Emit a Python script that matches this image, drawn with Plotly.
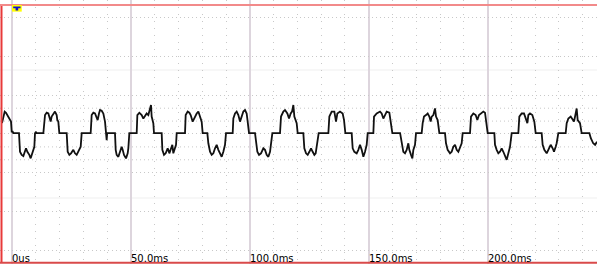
import plotly.graph_objects as go

# ---------------- data ----------------
time_ms = [
    -4.2, -3.08, -2.52, -1.96, -1.26, -0.84, -0.42, -0.14, 0.28, 0.56, 2.66, 2.94,
    3.36, 4.07, 4.77, 5.47, 5.89, 6.45, 7.29, 7.85, 8.55, 8.97, 9.39, 9.67, 10.09, 10.3,
    13.18, 13.88, 14.58, 15.28, 15.98, 16.26, 16.68, 17.38, 18.08, 18.78, 19.06, 19.48, 19.90,
    22.99, 23.41, 24.11, 24.81, 25.79, 26.49, 27.19, 27.89, 28.60, 28.88, 29.30,
    33.08, 33.50, 34.20, 34.90, 35.60, 36.02, 36.58, 37.01, 37.71, 38.41, 39.11, 39.53, 39.81, 40.0,
    43.31, 43.6, 44.01, 44.72, 45.42, 46.12, 46.54, 47.10, 47.94, 48.64, 48.92, 49.34,
    52.43, 52.71, 53.55, 54.53, 55.23, 55.93, 56.63, 57.33, 58.03, 58.45, 58.73, 59.43, 59.71,
    62.94, 63.22, 63.92, 64.62, 65.46, 66.16, 66.72, 67.42, 67.84, 68.55, 68.97, 69.25,
    72.75, 73.03, 73.87, 74.57, 75.13, 75.97, 76.54, 77.66, 78.36, 79.06, 79.76, 80.18,
    82.14, 82.56, 83.27, 83.97, 84.67, 85.37, 86.07, 86.77, 87.47, 88.17, 88.87, 89.57, 89.99,
    92.80, 93.08, 93.78, 94.48, 95.18, 95.88, 96.58, 97.28, 97.98, 98.68, 99.10, 99.67,
    102.19, 102.61, 103.17, 103.87, 104.71, 105.69, 106.39, 107.09, 107.80, 108.50, 108.92, 109.48,
    112.70, 113.12, 114.10, 114.80, 115.79, 116.49, 117.19, 117.75, 118.31, 118.73, 119.71, 120.13,
    122.51, 122.93, 123.64, 124.34, 125.04, 125.74, 126.44, 127.14, 127.70, 128.12, 128.54, 128.96,
    133.03, 133.45, 134.43, 135.55, 136.25, 136.81, 137.93, 139.05, 139.62, 140.18,
    142.84, 143.26, 143.96, 144.94, 145.64, 146.34, 147.05, 147.75, 148.45, 149.15, 149.57,
    151.95, 152.23, 153.35, 154.75, 155.45, 156.15, 156.86, 157.56, 158.68, 159.24, 159.94,
    163.2, 163.86, 164.56, 165.26, 165.96, 166.66, 167.08, 167.79, 168.35, 168.77, 169.47, 169.89,
    172.27, 172.69, 173.25, 174.09, 174.79, 175.50, 176.06, 176.48, 177.18, 177.88, 178.30, 179.00, 179.70,
    182.08, 182.50, 183.20, 184.19, 184.89, 185.59, 186.29, 186.99, 187.69, 188.39, 189.09, 189.51,
    192.60, 193.02, 194.00, 194.98, 195.68, 196.38, 197.08, 198.20, 198.90, 199.60, 200.03,
    202.83, 203.11, 203.81, 204.51, 205.21, 205.91, 206.61, 207.31, 208.02, 208.72, 209.42, 210.12,
    212.92, 213.34, 214.32, 215.30, 216.14, 216.71, 217.13, 217.83, 218.81, 219.65, 220.21,
    222.73, 223.15, 223.85, 224.84, 225.82, 226.52, 227.36, 227.92, 228.62, 229.04, 229.74,
    232.83, 233.25, 233.95, 234.93, 235.77, 236.33, 237.03, 237.45, 237.87, 238.85, 239.55,
    242.8, 243.4, 244.4, 245.2, 246.0,
]
current_div = [
    0.28, 0.58, 0.55, 0.49, 0.40, 0.36, 0.32, 0.06, 0.06, 0.02, 0.02, 0.02,
    -0.46, -0.54, -0.57, -0.46, -0.37, -0.46, -0.54, -0.63, -0.50, -0.37, -0.33, 0.02, 0.06, 0.02,
    0.02, 0.49, 0.55, 0.53, 0.36, 0.32, 0.45, 0.53, 0.58, 0.49, 0.36, 0.32, 0.02,
    0.02, -0.46, -0.54, -0.50, -0.41, -0.50, -0.54, -0.46, -0.37, -0.33, 0.02,
    0.02, 0.49, 0.55, 0.53, 0.40, 0.36, 0.53, 0.62, 0.60, 0.53, 0.32, 0.02, -0.16, 0.02,
    0.02, -0.41, -0.54, -0.59, -0.46, -0.33, -0.41, -0.54, -0.63, -0.50, -0.37, 0.02,
    0.02, 0.49, 0.55, 0.49, 0.40, 0.45, 0.53, 0.49, 0.62, 0.75, 0.45, 0.28, 0.02,
    0.02, -0.41, -0.54, -0.50, -0.37, -0.50, -0.41, -0.28, -0.50, -0.37, -0.28, 0.02,
    0.02, 0.49, 0.58, 0.55, 0.49, 0.32, 0.40, 0.53, 0.58, 0.45, 0.32, 0.02,
    0.02, -0.24, -0.46, -0.54, -0.50, -0.37, -0.28, -0.41, -0.50, -0.59, -0.46, -0.28, 0.02,
    0.02, 0.40, 0.53, 0.58, 0.49, 0.32, 0.45, 0.58, 0.62, 0.53, 0.32, 0.02,
    0.02, -0.28, -0.46, -0.54, -0.50, -0.37, -0.41, -0.54, -0.59, -0.46, -0.28, 0.02,
    0.02, 0.45, 0.58, 0.62, 0.53, 0.40, 0.53, 0.58, 0.75, 0.45, 0.28, 0.02,
    0.02, -0.37, -0.50, -0.54, -0.46, -0.37, -0.46, -0.54, -0.50, -0.33, -0.24, 0.02,
    0.02, 0.45, 0.58, 0.58, 0.32, 0.53, 0.58, 0.53, 0.36, 0.02,
    0.02, -0.37, -0.46, -0.50, -0.41, -0.28, -0.41, -0.59, -0.46, -0.28, 0.02,
    0.02, 0.45, 0.53, 0.58, 0.53, 0.40, 0.49, 0.58, 0.55, 0.36, 0.02,
    0.02, -0.28, -0.46, -0.50, -0.41, -0.24, -0.41, -0.54, -0.63, -0.41, -0.28, 0.02,
    0.02, 0.28, 0.45, 0.49, 0.53, 0.45, 0.32, 0.45, 0.49, 0.66, 0.45, 0.36, 0.02,
    0.02, -0.24, -0.41, -0.50, -0.46, -0.33, -0.28, -0.41, -0.46, -0.37, -0.24, 0.02,
    0.02, 0.45, 0.53, 0.49, 0.36, 0.49, 0.53, 0.58, 0.55, 0.28, 0.02,
    0.02, -0.28, -0.41, -0.50, -0.46, -0.37, -0.46, -0.59, -0.67, -0.50, -0.33, 0.02,
    0.02, 0.45, 0.53, 0.53, 0.40, 0.28, 0.49, 0.53, 0.49, 0.32, 0.02,
    0.02, -0.28, -0.41, -0.50, -0.37, -0.28, -0.37, -0.46, -0.33, -0.24, 0.02,
    0.02, 0.28, 0.40, 0.45, 0.36, 0.32, 0.53, 0.66, 0.36, 0.28, 0.02,
    0.02, -0.11, -0.24, -0.28, -0.20,
]
tick_values_ms = [0, 50, 100, 150, 200]
tick_labels = ["0us", "50.0ms", "100.0ms", "150.0ms", "200.0ms"]
center_minor_levels = [-2 / 3, -1 / 3, 1 / 3, 2 / 3]
cursor_levels = [1.655, -1.655]

# ---------------- figure ----------------
W, H = 597, 264
x_range = [-5.05, 246.0]
y_range = [-3.362, 3.465]

fig = go.Figure()
fig.add_trace(go.Scatter(
    x=time_ms, y=current_div, mode="lines",
    line=dict(color="#111111", width=1.8),
    hoverinfo="skip", showlegend=False,
))

shapes = []
for lv in center_minor_levels:
    shapes.append(dict(type="line", xref="paper", yref="y", x0=0, x1=1, y0=lv, y1=lv,
                       line=dict(color="#c8c8c8", width=1, dash="1px,3px"), layer="below"))
for lv in cursor_levels:
    shapes.append(dict(type="line", xref="paper", yref="y", x0=0, x1=1, y0=lv, y1=lv,
                       line=dict(color="#efefef", width=1), layer="below"))

# red frame
shapes += [
    dict(type="line", xref="paper", yref="paper", x0=0.0025, x1=0.0025, y0=0.004, y1=0.985,
         line=dict(color="#e83a3a", width=2)),
    dict(type="line", xref="paper", yref="paper", x0=0, x1=1, y0=0.9815, y1=0.9815,
         line=dict(color="#f28a8a", width=2)),
    dict(type="line", xref="paper", yref="paper", x0=0, x1=1, y0=0.005, y1=0.005,
         line=dict(color="#d94a4a", width=2)),
]
# trigger marker (yellow box with blue arrow) at t = 0
shapes += [
    dict(type="rect", xref="x", yref="paper", x0=0, x1=4.1, y0=0.956, y1=0.981,
         fillcolor="#ffff00", line=dict(width=0)),
    dict(type="path", xref="x", yref="paper",
         path="M 0.5 0.975 L 3.6 0.975 L 3.6 0.969 L 2.6 0.969 L 2.6 0.960 L 1.5 0.960 L 1.5 0.969 L 0.5 0.969 Z",
         fillcolor="#1010d0", line=dict(width=0)),
]

annotations = []
for tv, tl in zip(tick_values_ms, tick_labels):
    annotations.append(dict(x=tv, y=0, xref="x", yref="paper", text=tl, showarrow=False,
                            xanchor="left", yanchor="bottom", xshift=-2, yshift=-2,
                            font=dict(family="DejaVu Sans", size=10, color="#000000")))

fig.update_layout(
    width=W, height=H,
    margin=dict(l=0, r=0, t=0, b=0),
    paper_bgcolor="white", plot_bgcolor="white",
    shapes=shapes, annotations=annotations,
    showlegend=False,
    xaxis=dict(range=x_range, showticklabels=False, zeroline=False, ticks="",
               showgrid=True, tick0=0, dtick=50, gridcolor="#ddd5dd", gridwidth=2,
               minor=dict(tick0=0, dtick=10, showgrid=True, gridcolor="#c8c8c8",
                          gridwidth=1, griddash="1px,6px")),
    yaxis=dict(range=y_range, showticklabels=False, zeroline=False, ticks="",
               showgrid=True, tick0=0, dtick=1, gridcolor="#c8c8c8", gridwidth=1,
               griddash="1px,3px"),
)

fig.write_html(
    "out.html",
    config={"displayModeBar": False},
    post_script="document.body.style.margin='0px';document.body.style.padding='0px';"
                "document.body.style.overflow='hidden';",
)
